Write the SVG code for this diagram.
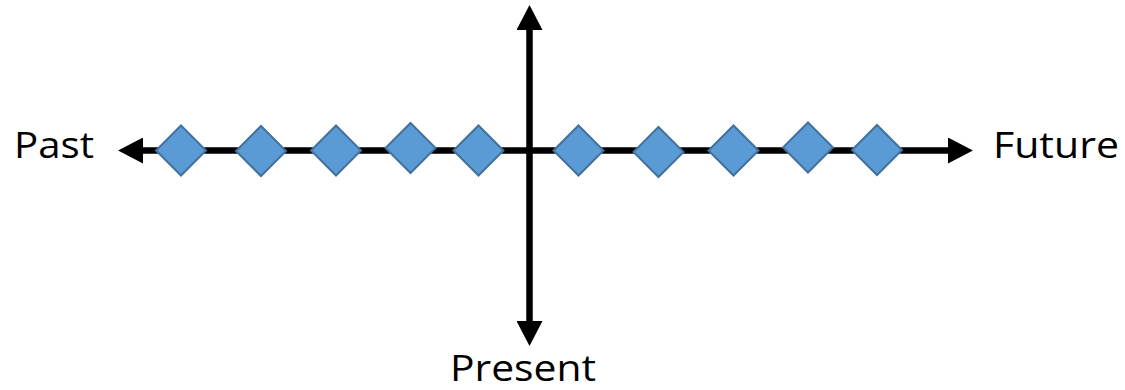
<svg xmlns="http://www.w3.org/2000/svg" width="1125" height="390" viewBox="0 0 1125 390">
  <style>
    .axis { stroke: #000; stroke-width: 6.5; fill: none; }
    .dia { fill: #5b9bd5; stroke: #41719c; stroke-width: 2; }
    .lbl { font-family: "Open Sans", "Liberation Sans", sans-serif; fill: #000; }
  </style>
  <defs>
    <marker id="ah" markerUnits="userSpaceOnUse" markerWidth="26" markerHeight="26" refX="0" refY="12.5" orient="auto-start-reverse" viewBox="0 0 25 25">
      <path d="M0,0 L24,12.5 L0,25 z" fill="#000"/>
    </marker>
  </defs>
  <rect width="1125" height="390" fill="#fff"/>
  <g id="connectors">
    <line class="axis" x1="143" y1="150.5" x2="948" y2="150.5" marker-start="url(#ah)" marker-end="url(#ah)"/>
    <line class="axis" x1="529.5" y1="30" x2="529.5" y2="321" marker-start="url(#ah)" marker-end="url(#ah)"/>
  </g>
  <g id="d1"><path class="dia" d="M181,125.5 L206,150.5 L181,175.5 L156,150.5 z"/></g>
  <g id="d2"><path class="dia" d="M261,126 L286,151 L261,176 L236,151 z"/></g>
  <g id="d3"><path class="dia" d="M336,125.5 L361,150.5 L336,175.5 L311,150.5 z"/></g>
  <g id="d4"><path class="dia" d="M410.5,123 L435.5,148 L410.5,173 L385.5,148 z"/></g>
  <g id="d5"><path class="dia" d="M478.5,125.5 L503.5,150.5 L478.5,175.5 L453.5,150.5 z"/></g>
  <g id="d6"><path class="dia" d="M578.5,125.5 L603.5,150.5 L578.5,175.5 L553.5,150.5 z"/></g>
  <g id="d7"><path class="dia" d="M658.5,127 L683.5,152 L658.5,177 L633.5,152 z"/></g>
  <g id="d8"><path class="dia" d="M733.5,125.5 L758.5,150.5 L733.5,175.5 L708.5,150.5 z"/></g>
  <g id="d9"><path class="dia" d="M808,122.5 L833,147.5 L808,172.5 L783,147.5 z"/></g>
  <g id="d10"><path class="dia" d="M877,125 L902,150 L877,175 L852,150 z"/></g>
  <g id="past"><text class="lbl" x="14" y="157.5" font-size="36" textLength="80" lengthAdjust="spacingAndGlyphs">Past</text></g>
  <g id="future"><text class="lbl" x="993" y="157.5" font-size="36" textLength="126" lengthAdjust="spacingAndGlyphs">Future</text></g>
  <g id="present"><text class="lbl" x="450" y="381" font-size="37" textLength="146" lengthAdjust="spacingAndGlyphs">Present</text></g>
</svg>
